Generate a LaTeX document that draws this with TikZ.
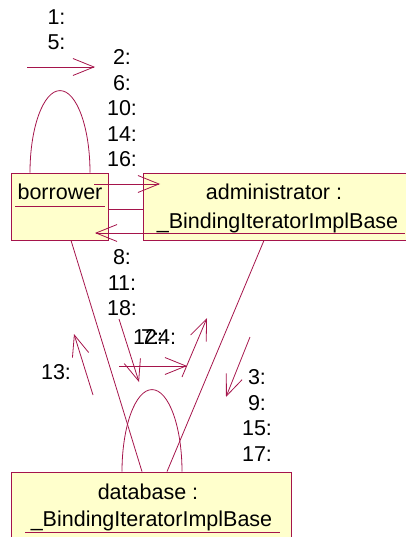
\documentclass[tikz,border=0pt]{standalone}
\usepackage{fontspec}
\setmainfont{Liberation Sans}
\usepackage{tikz}
\usetikzlibrary{arrows.meta,positioning,calc}
\definecolor{linkred}{RGB}{165,20,75}
\definecolor{objyellow}{RGB}{255,255,204}

\begin{document}
\begin{tikzpicture}[x=1pt,y=-1pt,
  obj/.style={draw=linkred,fill=objyellow,line width=0.8pt,inner sep=0pt},
  link/.style={draw=linkred,line width=0.8pt},
  msg/.style={draw=linkred,line width=0.8pt,-{Straight Barb[length=21pt,width=17pt]}},
  lbl/.style={font=\fontsize{21.5pt}{25.5pt}\selectfont,inner sep=0pt,align=center},
]
\useasboundingbox (0,0) rectangle (405,537);

% Objects
\node[obj,minimum width=97pt,minimum height=67pt] (borrower) at (59.5,206.5) {};
\node[obj,minimum width=267pt,minimum height=67pt] (admin) at (276.5,206.5) {};
\node[obj,minimum width=280pt,minimum height=80pt] (database) at (151,512) {};

\node[lbl,anchor=base] (borrowername) at (60,200) {borrower};
\node[lbl,anchor=base] (adminname) at (274,200) {administrator :};
\node[lbl,anchor=base] (adminclass) at (277.5,228) {\_BindingIteratorImplBase};
\node[lbl,anchor=base] (dbname) at (148,499) {database :};
\node[lbl,anchor=base] (dbclass) at (151.5,526.7) {\_BindingIteratorImplBase};

% Underlines
\draw[link] (15,206) -- (105,206);
\draw[link] (153,233) -- (405,233);
\draw[link] (25,532) -- (280,532);

% Links
\draw[link] ([yshift=-2.5pt]borrower.east) -- ([yshift=-2.5pt]admin.west);
\draw[link] ([xshift=11.5pt]borrower.south) -- ([xshift=-9pt]database.north);
\draw[link] ([xshift=-12.5pt]admin.south) -- ([xshift=16pt]database.north);
\draw[link] ([xshift=-29.5pt]borrower.north) arc[start angle=180,end angle=0,x radius=30pt,y radius=82pt];
\draw[link] ([xshift=-29pt]database.north) arc[start angle=180,end angle=0,x radius=30pt,y radius=82pt];

% Message arrows
\coordinate (selfA) at (27,67);    \coordinate (selfB) at (95,67);
\coordinate (toadmA) at (94,184);  \coordinate (toadmB) at (160,184);
\coordinate (toborA) at (153,233); \coordinate (toborB) at (95,233);
\coordinate (upA) at (93,395);     \coordinate (upB) at (74,334);
\coordinate (downA) at (119,319);  \coordinate (downB) at (139,382);
\coordinate (dbselfA) at (119,366); \coordinate (dbselfB) at (187,366);
\coordinate (dbupA) at (182,377);  \coordinate (dbupB) at (207,318);
\coordinate (todbA) at (250,337);  \coordinate (todbB) at (226,397);
\foreach \s in {self,toadm,tobor,up,down,dbself,dbup,todb}
  \draw[msg] (\s A) -- (\s B);

% Message numbers
\node[lbl,anchor=north] (nself) at (56.5,9.3) {1:\\5:};
\node[lbl,anchor=north] (ntoadm) at (122,49.3) {2:\\6:\\10:\\14:\\16:};
\node[lbl,anchor=north] (ntobor) at (122,249.3) {8:\\11:\\18:};
\node[lbl,anchor=north] (ntodb) at (257,369.3) {3:\\9:\\15:\\17:};
\node[lbl,anchor=base] (nup) at (56,379.7) {13:};
\node[lbl,anchor=base west] (ndown) at (133,344.7) {12:};
\node[lbl,anchor=base west] (ndbself) at (141,344.7) {7:};
\node[lbl,anchor=base west] (ndbup) at (158,344.7) {4:};

\end{tikzpicture}
\end{document}
